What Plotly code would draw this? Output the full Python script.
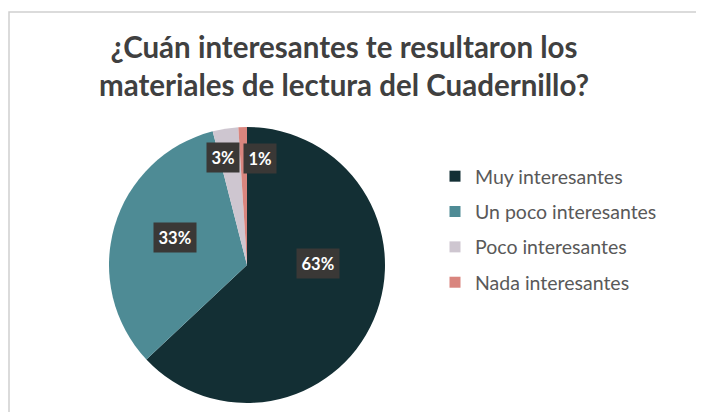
import math
import plotly.graph_objects as go

# ---- data ----
categories = ["Muy interesantes", "Un poco interesantes", "Poco interesantes", "Nada interesantes"]
values = [63, 33, 3, 1]
colors = ["#132f34", "#4e8b95", "#cec6d0", "#d9857e"]
title_lines = ["¿Cuán interesantes te resultaron los", "materiales de lectura del Cuadernillo?"]

W, H = 704, 412
OFF = 8  # page body margin offset
CX, CY, R = 247 - OFF, 265 - OFF, 138  # pie centre / radius in figure px

fig = go.Figure()
fig.add_trace(go.Pie(
    labels=categories, values=values, sort=False, direction="clockwise", rotation=0,
    marker=dict(colors=colors, line=dict(width=0)),
    textinfo="none", hoverinfo="label+percent", showlegend=False,
    domain=dict(x=[(CX - R) / W, (CX + R) / W], y=[(H - CY - R) / H, (H - CY + R) / H]),
))

# legend entries (one group each so spacing can be set)
for i, (c, col) in enumerate(zip(categories, colors)):
    fig.add_trace(go.Scatter(
        x=[None], y=[None], mode="markers", name=c,
        marker=dict(symbol="square", size=11, color=col),
        legendgroup=f"g{i}", showlegend=True,
    ))

# data labels computed from slice geometry
total = sum(values)
label_frac = [0.57, 0.57, 0.78, 0.78]
label_shift = [(-1, 33), (4, 6), (-7, 1), (16, -1)]
annotations = []
cum = 0
for i, v in enumerate(values):
    mid = (cum + v / 2) / total * 2 * math.pi
    cum += v
    d = R * label_frac[i]
    px = CX + d * math.sin(mid)
    py = CY - d * math.cos(mid)
    pct = round(v / total * 100)
    annotations.append(dict(
        x=px / W, y=1 - py / H, xref="paper", yref="paper", showarrow=False,
        xanchor="center", yanchor="middle",
        text=f"<b>{pct}%</b>", font=dict(family="Lato, Carlito, sans-serif", size=16.5, color="white"),
        bgcolor="#3a3836", borderpad=4.5, xshift=label_shift[i][0], yshift=label_shift[i][1],
    ))

fig.update_layout(
    width=W, height=H,
    margin=dict(l=0, r=0, t=0, b=0),
    paper_bgcolor="white", plot_bgcolor="white",
    xaxis=dict(visible=False), yaxis=dict(visible=False),
    title=dict(
        text="<br>".join(title_lines), x=(344 - OFF) / W, xanchor="center", y=1 - 50 / H, yanchor="top",
        font=dict(family="Lato, Carlito, sans-serif", size=29.5, color="#404040", weight="bold"),
    ),
    legend=dict(
        x=427 / W, y=1 - 149 / H, xanchor="left", yanchor="top",
        font=dict(family="Lato, Carlito, sans-serif", size=19.5, color="#595959"),
        tracegroupgap=7, bgcolor="rgba(0,0,0,0)",
    ),
    annotations=annotations,
    shapes=[dict(type="rect", xref="paper", yref="paper", x0=1 / W, x1=1.05, y0=-0.1, y1=1 - 4 / H,
                 line=dict(color="#cfcfcf", width=1.5), fillcolor="rgba(0,0,0,0)", layer="below")],
)

fig.write_html("out.html")
